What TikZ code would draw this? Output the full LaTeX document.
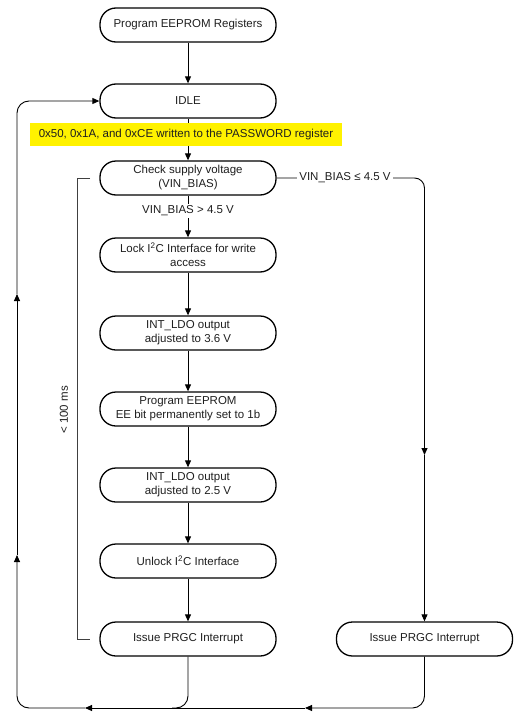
\documentclass[tikz,border=0pt]{standalone}
\usepackage{fontspec}
\setmainfont{Liberation Sans}
\usetikzlibrary{arrows.meta}
\begin{document}
\begin{tikzpicture}[x=1pt,y=-1pt,
  every node/.style={font=\fontsize{11.5}{14}\selectfont, text=black!88},
  box/.style={draw, line width=1.3pt, rounded corners=16pt, minimum width=176pt, minimum height=34pt, align=center, inner sep=2pt},
  conn/.style={line width=0.9pt},
  arr/.style={conn, -{Triangle[length=7pt,width=6pt]}},
  lbl/.style={fill=white, inner sep=2pt}
]
\useasboundingbox (0,0) rectangle (529,720);

\node[box] (prog) at (188,25) {Program EEPROM Registers};
\node[box] (idle) at (188,101) {IDLE};
\node[box] (check) at (188,178) {Check supply voltage\\(VIN\_BIAS)};
\node[box] (lock) at (188,255) {Lock I\textsuperscript{2}C Interface for write\\access};
\node[box] (ldoa) at (188,333) {INT\_LDO output\\adjusted to 3.6 V};
\node[box] (eep) at (188,409) {Program EEPROM\\EE bit permanently set to 1b};
\node[box] (ldob) at (188,485) {INT\_LDO output\\adjusted to 2.5 V};
\node[box] (unlock) at (188,561) {Unlock I\textsuperscript{2}C Interface};
\node[box] (issueL) at (188,639) {Issue PRGC Interrupt};
\node[box] (issueR) at (424.5,639) {Issue PRGC Interrupt};

% main chain
\draw[arr] (prog) -- (idle);
\draw[arr] (idle) -- (check);
\node[fill=yellow, minimum width=312pt, minimum height=23pt, inner sep=0pt] (pw) at (186,134.5) {0x50, 0x1A, and 0xCE written to the PASSWORD register};
\draw[arr] (check) -- (lock);
\node[lbl] (gt) at (188,211) {VIN\_BIAS > 4.5 V};
\draw[arr] (lock) -- (ldoa);
\draw[arr] (ldoa) -- (eep);
\draw[arr] (eep) -- (ldob);
\draw[arr] (ldob) -- (unlock);
\draw[arr] (unlock) -- (issueL);

% right branch
\coordinate (mR) at (424.5,455);
\draw[arr, rounded corners=10pt] (check.east) -| (mR);
\node[lbl] (le) at (345,178) {VIN\_BIAS ≤ 4.5 V};
\draw[arr] (mR) -- (issueR.north);

% return loop
\coordinate (aB1) at (305,708);
\coordinate (aB2) at (85,708);
\coordinate (aL1) at (17,555);
\coordinate (aL2) at (17,294);
\coordinate (jn) at (172,708);
\draw[arr, rounded corners=12pt] (issueR.south) |- (aB1);
\draw[arr] (aB1) -- (aB2);
\draw[arr, rounded corners=12pt] (aB2) -| (aL1);
\draw[arr] (aL1) -- (aL2);
\draw[arr, rounded corners=12pt] (aL2) |- (idle.west);
\draw[conn, rounded corners=12pt] (issueL.south) |- (jn);

% timing bracket
\coordinate (t1) at (90,178);
\coordinate (t2) at (90,639);
\draw[conn, black!75] (t1) -- (77,178) -- (77,639) -- (t2);
\node[rotate=90] (ms) at (64,410) {< 100 ms};
\end{tikzpicture}
\end{document}
